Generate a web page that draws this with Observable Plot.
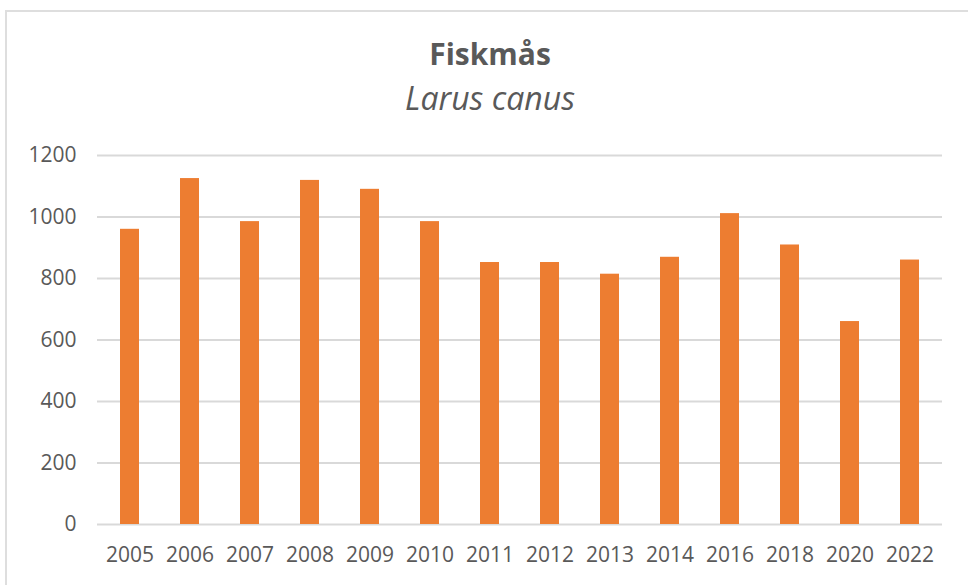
<!DOCTYPE html>
<html>
<head>
<meta charset="utf-8">
<script src="https://cdn.jsdelivr.net/npm/d3@7"></script>
<script src="https://cdn.jsdelivr.net/npm/@observablehq/plot@0.6"></script>
<style>
  html, body { margin: 0; padding: 0; background: #fff; }
  body { width: 968px; height: 585px; position: relative; overflow: hidden; font-family: "Open Sans", sans-serif; }
  #frame { position: absolute; left: 5px; top: 10px; width: 980px; height: 600px; border: 2px solid #dedede; box-sizing: border-box; }
  .t { position: absolute; left: 0; width: 980px; text-align: center; color: #595959; line-height: 28px; }
  #title { top: 40px; font-size: 30px; font-weight: 700; }
  #subtitle { top: 84px; font-size: 32px; font-style: italic; }
  #chart { position: absolute; left: 0; top: 130px; }
</style>
</head>
<body>
<div id="frame"></div>
<div class="t" id="title">Fiskmås</div>
<div class="t" id="subtitle">Larus canus</div>
<div id="chart"></div>
<script>
const years = ["2005","2006","2007","2008","2009","2010","2011","2012","2013","2014","2016","2018","2020","2022"];
const counts = [960, 1125, 985, 1119, 1090, 985, 852, 852, 814, 869, 1011, 909, 660, 860];
const yTicks = [0, 200, 400, 600, 800, 1000, 1200];

const data = years.map((y, i) => ({year: y, count: counts[i]}));

const plot = Plot.plot({
  width: 968,
  height: 455,
  marginTop: 25,
  marginBottom: 61,
  marginLeft: 97,
  marginRight: 26,
  style: { fontFamily: "'Open Sans', sans-serif", fontSize: "21px", color: "#595959", background: "transparent" },
  x: { domain: years, paddingInner: 0.68, paddingOuter: 0.34, label: null },
  y: { domain: [0, 1200], label: null },
  marks: [
    Plot.gridY(yTicks, { stroke: "#d9d9d9", strokeOpacity: 1, strokeWidth: 2 }),
    Plot.barY(data, { x: "year", y: "count", fill: "#ED7D31" }),
    Plot.axisX({ tickSize: 0, tickPadding: 23, label: null }),
    Plot.axisY(yTicks, { tickSize: 0, tickPadding: 21, label: null, tickFormat: d => String(d) })
  ]
});
document.getElementById("chart").appendChild(plot);
</script>
</body>
</html>
